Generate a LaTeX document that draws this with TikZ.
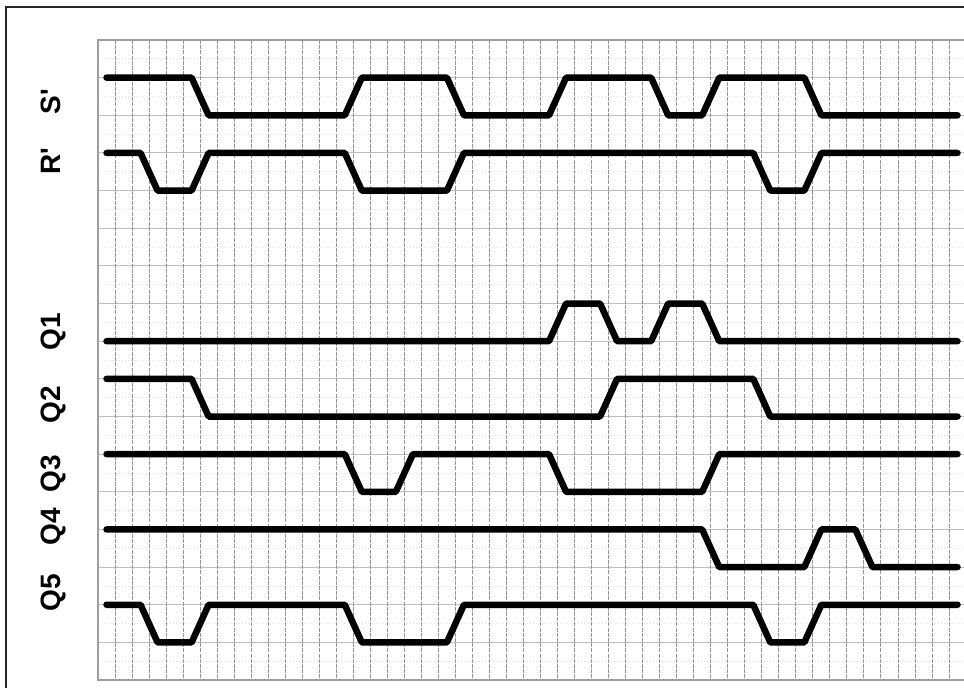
\documentclass[tikz,border=0pt]{standalone}
\usepackage{fontspec}
\setmainfont{Liberation Sans}
\begin{document}
\begin{tikzpicture}[x=1pt,y=-1pt,
  wave/.style={line width=6.5pt,line cap=round,line join=round,black},
  vline/.style={draw=black!42,line width=0.9pt,dash pattern=on 4pt off 1.2pt},
  hline/.style={draw=black!25,line width=1pt},
  hminor/.style={draw=black!12,line width=0.7pt,dash pattern=on 1pt off 2pt},
  gridedge/.style={draw=black!38,line width=1.5pt},
  lab/.style={font=\bfseries\fontsize{28}{30}\selectfont,rotate=90,inner sep=0pt}]
\useasboundingbox (0,0) rectangle (964,688);
\clip (0,0) rectangle (964,688);
\fill[white] (0,0) rectangle (964,688);
% outer frame
\draw[black!85,line width=1.6pt] (6,700) -- (6,7) -- (980,7);
\begin{scope}[shift={(98,40)},x=17.02pt,y=-37.65pt]
  % minor horizontal lines
  \foreach \k in {0,...,16} \draw[hminor] (0,\k+0.5) -- (52,\k+0.5);
  % major horizontal lines
  \foreach \k in {1,...,16} \draw[hline] (0,\k) -- (52,\k);
  % vertical dashed lines
  \foreach \c in {1,...,50} \draw[vline] (\c,0) -- (\c,17);
  % grid edges
  \draw[gridedge] (52,0) -- (0,0) -- (0,17) -- (52,17);
  % S'
  \draw[wave] (0.5,1)--(5.5,1)--(6.5,2)--(14.5,2)--(15.5,1)--(20.5,1)--(21.5,2)--(26.5,2)--(27.5,1)--(32.5,1)--(33.5,2)--(35.5,2)--(36.5,1)--(41.5,1)--(42.5,2)--(50.5,2);
  % R'
  \draw[wave] (0.5,3)--(2.5,3)--(3.5,4)--(5.5,4)--(6.5,3)--(14.5,3)--(15.5,4)--(20.5,4)--(21.5,3)--(38.5,3)--(39.5,4)--(41.5,4)--(42.5,3)--(50.5,3);
  % Q1
  \draw[wave] (0.5,8)--(26.5,8)--(27.5,7)--(29.5,7)--(30.5,8)--(32.5,8)--(33.5,7)--(35.5,7)--(36.5,8)--(50.5,8);
  % Q2
  \draw[wave] (0.5,9)--(5.5,9)--(6.5,10)--(29.5,10)--(30.5,9)--(38.5,9)--(39.5,10)--(50.5,10);
  % Q3
  \draw[wave] (0.5,11)--(14.5,11)--(15.5,12)--(17.5,12)--(18.5,11)--(26.5,11)--(27.5,12)--(35.5,12)--(36.5,11)--(50.5,11);
  % Q4
  \draw[wave] (0.5,13)--(35.5,13)--(36.5,14)--(41.5,14)--(42.5,13)--(44.5,13)--(45.5,14)--(50.5,14);
  % Q5
  \draw[wave] (0.5,15)--(2.5,15)--(3.5,16)--(5.5,16)--(6.5,15)--(14.5,15)--(15.5,16)--(20.5,16)--(21.5,15)--(38.5,15)--(39.5,16)--(41.5,16)--(42.5,15)--(50.5,15);
\end{scope}
% labels
\node[lab] (lS) at (51,102) {S\textquotesingle};
\node[lab] (lR) at (51,161) {R\textquotesingle};
\node[lab] (lQ1) at (53,332) {Q1};
\node[lab] (lQ2) at (53,405) {Q2};
\node[lab] (lQ3) at (53,474) {Q3};
\node[lab] (lQ4) at (53,527) {Q4};
\node[lab] (lQ5) at (53,593) {Q5};
\end{tikzpicture}
\end{document}
